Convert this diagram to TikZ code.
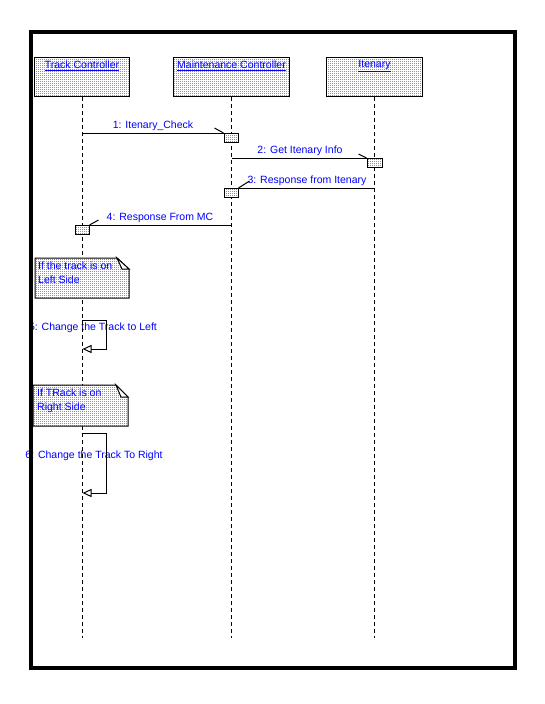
\documentclass[tikz,border=0pt]{standalone}
\usepackage{fontspec}
\setmainfont{Liberation Sans}
\usetikzlibrary{arrows.meta,patterns.meta}
\tikzdeclarepattern{name=stip,type=uncolored,bottom left={(0pt,0pt)},top right={(2pt,2pt)},tile size={(2pt,2pt)},code={\fill (0pt,0pt) rectangle (1pt,1pt);}}
\begin{document}
\begin{tikzpicture}[x=1pt,y=-1pt,
 every node/.style={font=\fontsize{10.5}{14}\selectfont},
 stipbox/.style={draw=black, line width=1pt, preaction={fill=white}, pattern=stip, pattern color=black, inner sep=0pt},
 obj/.style={stipbox, anchor=north west, minimum height=39pt},
 act/.style={stipbox, anchor=north, minimum width=14pt, minimum height=9pt},
 txt/.style={text=blue, inner sep=0pt},
 lifeline/.style={dash pattern=on 4pt off 3pt, line width=1pt},
 msg/.style={line width=1pt},
 selfmsg/.style={line width=1pt, -{Triangle[length=9pt,width=8pt,fill=white,line width=1pt]}},
 notebox/.style={draw, line width=1pt, preaction={fill=white}, pattern=stip, pattern color=black},
 fold/.style={draw, line width=1pt, fill=white},
 frame/.style={draw, line width=4pt},
]
\useasboundingbox (0,0) rectangle (545,704);
\fill[white] (0,0) rectangle (545,704);
% objects
\node[obj, minimum width=95pt] (tc) at (34,57) {};
\node[obj, minimum width=116pt] (mc) at (173,57) {};
\node[obj, minimum width=96pt] (it) at (326,57) {};
\node[txt] (tct) at ([yshift=-9pt]tc.north) {\underline{Track Controller}};
\node[txt] (mct) at ([yshift=-9pt]mc.north) {\underline{Maintenance Controller}};
\node[txt] (itt) at ([yshift=-9pt]it.north) {\underline{Itenary}};
% message labels
\node[txt] (l1) at (153,126) {1: Itenary\_Check};
\node[txt] (l2) at (300,151) {2: Get Itenary Info};
\node[txt] (l3) at (307,181) {3: Response from Itenary};
\node[txt] (l4) at (160,218) {4: Response From MC};
\node[txt] (l5) at (93,328) {5: Change the Track to Left};
\node[txt] (l6) at (94,456) {6: Change the Track To Right};
% lifelines
\coordinate (endy) at (0,638);
\draw[lifeline] (tc.south) -- (tc.south |- endy);
\draw[lifeline] (mc.south) -- (mc.south |- endy);
\draw[lifeline] (it.south) -- (it.south |- endy);
% activations
\node[act] (a1) at (231,133) {};
\node[act, minimum width=15pt] (a2) at (374.5,158) {};
\node[act] (a3) at (231,188) {};
\node[act] (a4) at (82,225) {};
% messages
\draw[msg] (tc.south |- a1.north) -- (a1.north west);
\draw[msg] (a1.north west) -- ++(-9,-5);
\draw[msg] (mc.south |- a2.north) -- (a2.north west);
\draw[msg] (a2.north west) -- ++(-8,-4);
\draw[msg] (it.south |- a3.north) -- (a3.north east);
\draw[msg] (a3.north east) -- ++(11,-7);
\draw[msg] (mc.south |- a4.north) -- (a4.north east);
\draw[msg] (a4.north east) -- ++(9,-5);
% note 1
\draw[notebox] (35,258) -- (117,258) -- (129,269) -- (129,298) -- (35,298) -- cycle;
\draw[fold] (117,258) -- (122,269) -- (129,269) -- cycle;
\node[txt, anchor=west, align=left] (n1) at (38,273) {If the track is on\\Left Side};
% self message 5
\coordinate (s5a) at (81.5,320);
\coordinate (s5b) at (82.5,349);
\draw[selfmsg] (s5a) -- (106,320) -- (106,349) -- (s5b);
% note 2
\draw[notebox] (33,385) -- (116,385) -- (128,397) -- (128,426) -- (33,426) -- cycle;
\draw[fold] (116,385) -- (121,397) -- (128,397) -- cycle;
\node[txt, anchor=west, align=left] (n2) at (37,401) {If TRack is on\\Right Side};
% self message 6
\coordinate (s6a) at (81.5,433);
\coordinate (s6b) at (82.5,493);
\draw[selfmsg] (s6a) -- (106,433) -- (106,493) -- (s6b);
% frame
\draw[frame] (31,32) rectangle (515,668);
\end{tikzpicture}
\end{document}
